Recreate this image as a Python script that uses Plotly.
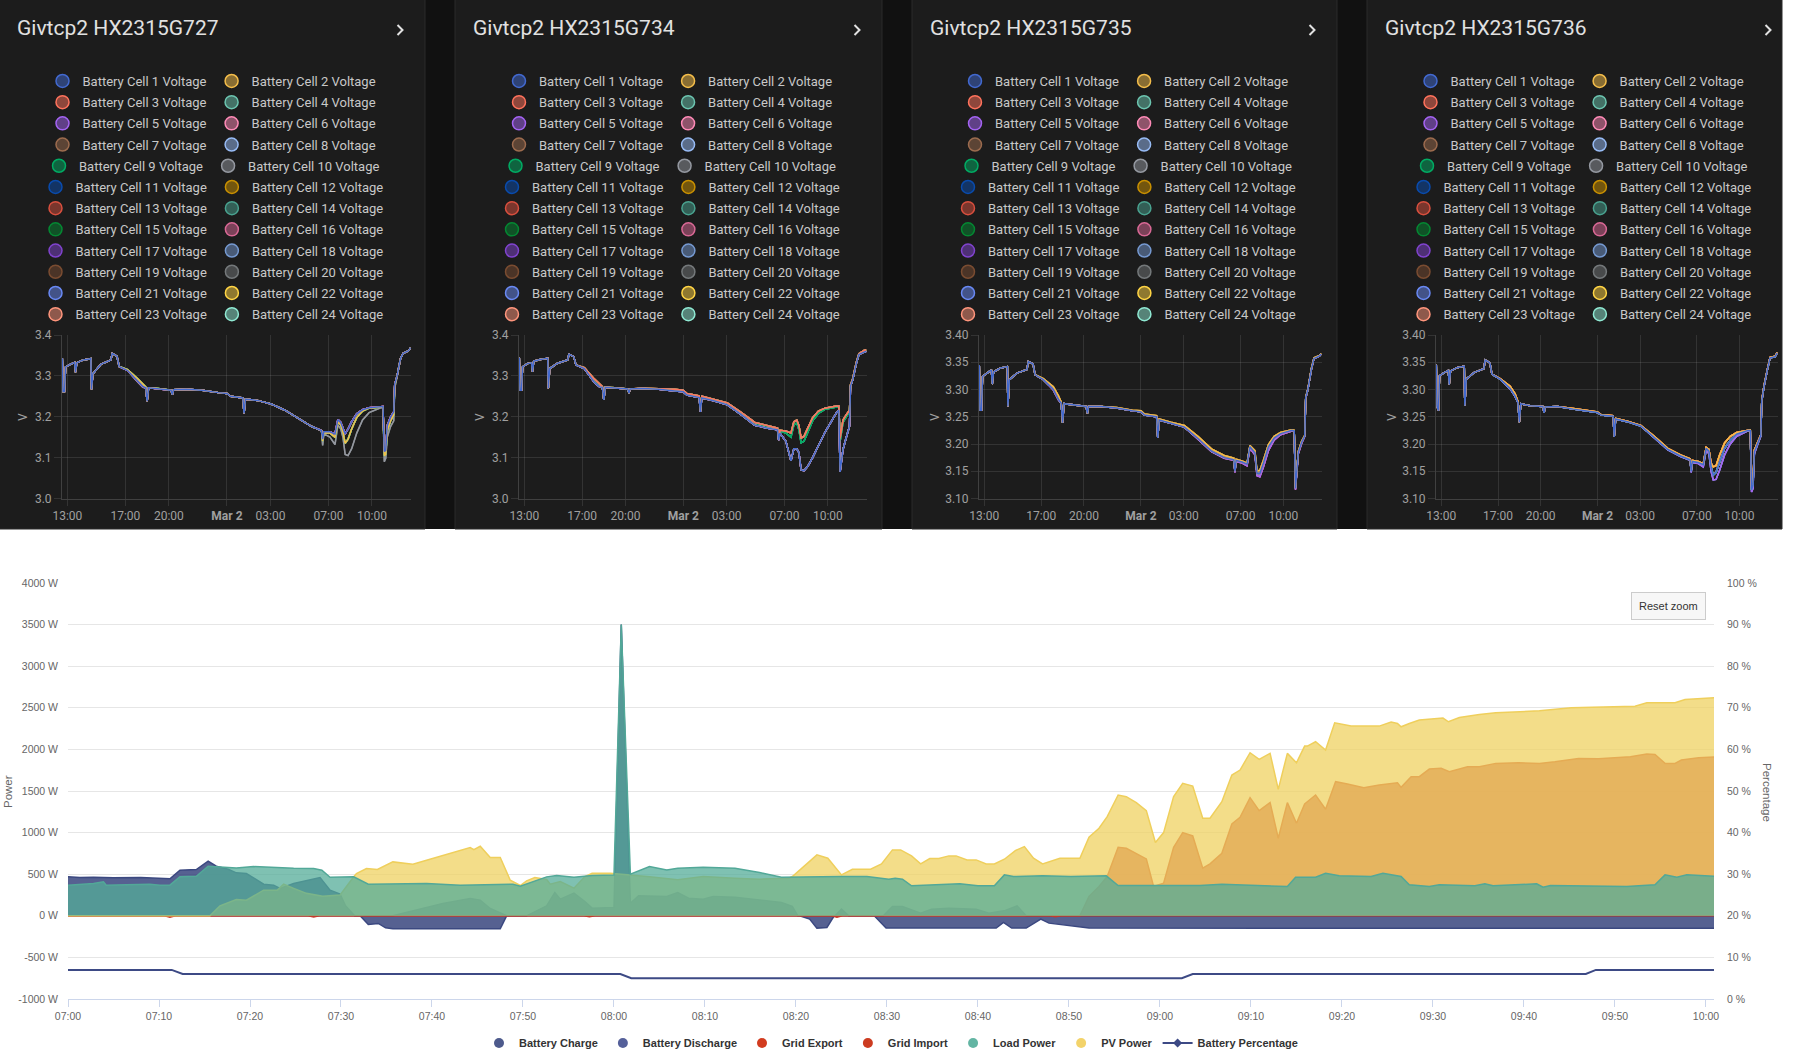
import pandas as pd
import plotly.graph_objects as go

W, H = 1800, 1064

# ---------------- battery cell voltages (hours since 2024-03-01 00:00) ----------------
v_hours = [12.65, 12.70, 12.80, 12.88, 13.20, 13.50, 13.56, 13.65, 14.10, 14.62,
           14.66, 14.76, 15.30, 16.00, 16.09, 16.42, 16.57, 17.15, 17.85, 18.20,
           18.40, 18.50, 18.60, 19.25, 20.15, 20.24, 20.32, 21.20, 22.30, 23.40,
           24.00, 24.25, 25.10, 25.18, 25.28, 26.10, 27.05, 28.00, 28.95, 29.85,
           30.52, 30.60, 30.68, 31.10, 31.45, 31.65, 31.85, 32.00, 32.15, 32.35,
           32.60, 32.95, 33.35, 33.80, 34.60, 34.76, 34.85, 34.95, 35.05, 35.28,
           35.50, 35.57, 35.72, 35.97, 36.15, 36.50, 36.66]

# HX2315G727
p1_base = [3.343, 3.262, 3.262, 3.322, 3.328, 3.333, 3.309, 3.332, 3.339, 3.342,
           3.267, 3.305, 3.328, 3.339, 3.355, 3.348, 3.323, 3.313, 3.287, 3.274,
           3.271, 3.238, 3.271, 3.269, 3.265, 3.254, 3.266, 3.267, 3.265, 3.259,
           3.257, 3.250, 3.246, 3.208, 3.243, 3.240, 3.231, 3.216, 3.196, 3.176,
           3.166, 3.145, 3.163, 3.163, 3.158, 3.193, 3.186, 3.172, 3.158, 3.170,
           3.188, 3.207, 3.217, 3.222, 3.225, 3.225, 3.115, 3.118, 3.178, 3.199,
           3.212, 3.280, 3.298, 3.343, 3.355, 3.361, 3.368]
p1_mid = [3.343, 3.262, 3.262, 3.322, 3.328, 3.333, 3.309, 3.332, 3.339, 3.342,
          3.267, 3.305, 3.328, 3.339, 3.355, 3.348, 3.323, 3.315, 3.293, 3.279,
          3.273, 3.238, 3.271, 3.269, 3.265, 3.254, 3.266, 3.267, 3.265, 3.259,
          3.257, 3.250, 3.246, 3.208, 3.243, 3.240, 3.231, 3.216, 3.196, 3.176,
          3.166, 3.140, 3.161, 3.160, 3.150, 3.188, 3.180, 3.162, 3.135, 3.145,
          3.170, 3.198, 3.214, 3.221, 3.224, 3.224, 3.105, 3.108, 3.165, 3.190,
          3.205, 3.277, 3.298, 3.343, 3.355, 3.361, 3.368]
p1_low = [3.343, 3.262, 3.262, 3.322, 3.328, 3.333, 3.309, 3.332, 3.339, 3.342,
          3.267, 3.305, 3.328, 3.339, 3.355, 3.348, 3.323, 3.313, 3.285, 3.272,
          3.270, 3.238, 3.271, 3.269, 3.265, 3.254, 3.266, 3.267, 3.265, 3.259,
          3.257, 3.250, 3.246, 3.208, 3.243, 3.240, 3.231, 3.216, 3.196, 3.176,
          3.166, 3.130, 3.158, 3.150, 3.132, 3.180, 3.170, 3.150, 3.108, 3.105,
          3.122, 3.160, 3.192, 3.210, 3.222, 3.222, 3.090, 3.098, 3.150, 3.176,
          3.190, 3.270, 3.296, 3.343, 3.355, 3.361, 3.368]

# HX2315G734
p2_base = [3.345, 3.265, 3.265, 3.322, 3.330, 3.332, 3.310, 3.336, 3.340, 3.343,
           3.270, 3.318, 3.331, 3.339, 3.353, 3.347, 3.327, 3.318, 3.284, 3.273,
           3.272, 3.241, 3.272, 3.271, 3.268, 3.258, 3.268, 3.269, 3.267, 3.263,
           3.261, 3.253, 3.247, 3.212, 3.246, 3.239, 3.229, 3.205, 3.179, 3.172,
           3.168, 3.143, 3.160, 3.140, 3.092, 3.122, 3.122, 3.112, 3.070, 3.068,
           3.078, 3.100, 3.130, 3.162, 3.210, 3.216, 3.065, 3.100, 3.120, 3.150,
           3.177, 3.275, 3.290, 3.330, 3.352, 3.358, 3.360]
p2_high = [3.345, 3.265, 3.265, 3.322, 3.330, 3.332, 3.310, 3.336, 3.340, 3.343,
           3.270, 3.318, 3.331, 3.339, 3.353, 3.347, 3.327, 3.320, 3.292, 3.280,
           3.274, 3.241, 3.272, 3.271, 3.268, 3.258, 3.268, 3.270, 3.269, 3.267,
           3.265, 3.257, 3.251, 3.215, 3.250, 3.243, 3.234, 3.211, 3.186, 3.178,
           3.172, 3.148, 3.167, 3.165, 3.160, 3.188, 3.192, 3.178, 3.148, 3.152,
           3.172, 3.198, 3.214, 3.221, 3.226, 3.226, 3.147, 3.175, 3.192, 3.205,
           3.216, 3.278, 3.293, 3.333, 3.354, 3.362, 3.364]
p2_mid = [3.345, 3.265, 3.265, 3.322, 3.330, 3.332, 3.310, 3.336, 3.340, 3.343,
          3.270, 3.318, 3.331, 3.339, 3.353, 3.347, 3.327, 3.319, 3.288, 3.277,
          3.273, 3.241, 3.272, 3.271, 3.268, 3.258, 3.268, 3.269, 3.268, 3.265,
          3.263, 3.255, 3.249, 3.213, 3.248, 3.241, 3.232, 3.208, 3.183, 3.175,
          3.170, 3.146, 3.165, 3.160, 3.150, 3.180, 3.185, 3.168, 3.136, 3.140,
          3.162, 3.190, 3.208, 3.218, 3.224, 3.224, 3.140, 3.168, 3.186, 3.200,
          3.212, 3.276, 3.291, 3.331, 3.353, 3.360, 3.362]

# HX2315G735
p3_base = [3.345, 3.262, 3.262, 3.324, 3.330, 3.336, 3.310, 3.332, 3.339, 3.342,
           3.269, 3.318, 3.330, 3.337, 3.351, 3.347, 3.327, 3.318, 3.300, 3.282,
           3.275, 3.239, 3.274, 3.272, 3.269, 3.256, 3.269, 3.269, 3.266, 3.261,
           3.259, 3.253, 3.250, 3.211, 3.244, 3.238, 3.231, 3.210, 3.187, 3.175,
           3.171, 3.150, 3.170, 3.167, 3.163, 3.195, 3.189, 3.184, 3.146, 3.146,
           3.165, 3.195, 3.211, 3.219, 3.225, 3.224, 3.119, 3.150, 3.185, 3.203,
           3.215, 3.285, 3.300, 3.338, 3.357, 3.361, 3.365]
p3_high = [3.345, 3.262, 3.262, 3.324, 3.330, 3.336, 3.310, 3.332, 3.339, 3.342,
           3.269, 3.318, 3.330, 3.337, 3.351, 3.347, 3.327, 3.320, 3.305, 3.289,
           3.277, 3.239, 3.274, 3.272, 3.269, 3.256, 3.269, 3.269, 3.267, 3.262,
           3.261, 3.255, 3.252, 3.212, 3.246, 3.240, 3.234, 3.214, 3.191, 3.179,
           3.174, 3.152, 3.172, 3.169, 3.165, 3.197, 3.192, 3.188, 3.150, 3.152,
           3.170, 3.199, 3.214, 3.221, 3.226, 3.225, 3.122, 3.153, 3.187, 3.205,
           3.216, 3.286, 3.301, 3.339, 3.358, 3.362, 3.366]
p3_low = [3.345, 3.262, 3.262, 3.324, 3.330, 3.336, 3.310, 3.332, 3.339, 3.342,
          3.269, 3.318, 3.330, 3.337, 3.351, 3.347, 3.327, 3.318, 3.299, 3.281,
          3.275, 3.239, 3.274, 3.272, 3.269, 3.256, 3.269, 3.269, 3.266, 3.261,
          3.259, 3.253, 3.250, 3.211, 3.244, 3.238, 3.231, 3.209, 3.186, 3.174,
          3.170, 3.148, 3.168, 3.165, 3.160, 3.192, 3.186, 3.180, 3.142, 3.140,
          3.158, 3.188, 3.207, 3.217, 3.224, 3.223, 3.116, 3.145, 3.182, 3.201,
          3.214, 3.284, 3.300, 3.338, 3.357, 3.361, 3.365]

# HX2315G736
p4_base = [3.346, 3.270, 3.261, 3.325, 3.331, 3.335, 3.309, 3.334, 3.340, 3.343,
           3.270, 3.319, 3.331, 3.338, 3.354, 3.349, 3.328, 3.319, 3.302, 3.288,
           3.276, 3.240, 3.274, 3.270, 3.269, 3.257, 3.268, 3.269, 3.264, 3.260,
           3.258, 3.253, 3.251, 3.213, 3.246, 3.241, 3.233, 3.212, 3.190, 3.178,
           3.171, 3.150, 3.168, 3.166, 3.162, 3.192, 3.187, 3.158, 3.143, 3.148,
           3.168, 3.192, 3.207, 3.218, 3.225, 3.225, 3.116, 3.125, 3.186, 3.201,
           3.216, 3.279, 3.305, 3.337, 3.358, 3.360, 3.367]
p4_high = [3.346, 3.270, 3.261, 3.325, 3.331, 3.335, 3.309, 3.334, 3.340, 3.343,
           3.270, 3.319, 3.331, 3.338, 3.354, 3.349, 3.328, 3.320, 3.306, 3.292,
           3.278, 3.240, 3.274, 3.270, 3.269, 3.257, 3.268, 3.269, 3.265, 3.261,
           3.259, 3.254, 3.252, 3.214, 3.247, 3.242, 3.234, 3.214, 3.192, 3.180,
           3.173, 3.152, 3.170, 3.168, 3.164, 3.194, 3.190, 3.165, 3.158, 3.160,
           3.180, 3.202, 3.214, 3.221, 3.226, 3.226, 3.122, 3.135, 3.189, 3.203,
           3.217, 3.280, 3.306, 3.338, 3.359, 3.361, 3.368]
p4_low = [3.346, 3.270, 3.261, 3.325, 3.331, 3.335, 3.309, 3.334, 3.340, 3.343,
          3.270, 3.319, 3.331, 3.338, 3.354, 3.349, 3.328, 3.319, 3.301, 3.287,
          3.276, 3.240, 3.274, 3.270, 3.269, 3.257, 3.268, 3.269, 3.264, 3.260,
          3.258, 3.253, 3.251, 3.213, 3.246, 3.241, 3.233, 3.211, 3.189, 3.177,
          3.170, 3.148, 3.166, 3.164, 3.158, 3.188, 3.182, 3.150, 3.134, 3.135,
          3.152, 3.180, 3.200, 3.214, 3.224, 3.224, 3.112, 3.118, 3.182, 3.199,
          3.214, 3.278, 3.304, 3.337, 3.358, 3.360, 3.367]

# which of the curves above each of the 24 cells follows
p1_groups = ["b", "m", "b", "m", "b", "b", "b", "b", "m", "l", "b", "m",
             "b", "m", "m", "b", "b", "b", "b", "l", "b", "m", "b", "m"]
p2_groups = ["b", "b", "h", "h", "b", "b", "h", "b", "m", "b", "b", "h",
             "h", "m", "m", "b", "b", "b", "b", "b", "b", "h", "h", "m"]
p3_groups = ["b", "h", "b", "b", "l", "l", "h", "b", "b", "b", "b", "h",
             "b", "b", "b", "b", "l", "b", "b", "b", "b", "h", "b", "b"]
p4_groups = ["b", "h", "h", "b", "l", "b", "b", "l", "b", "b", "b", "h",
             "h", "b", "b", "b", "l", "b", "b", "b", "b", "h", "h", "b"]

panel_titles = ["Givtcp2 HX2315G727", "Givtcp2 HX2315G734",
                "Givtcp2 HX2315G735", "Givtcp2 HX2315G736"]
cell_names = [f"Battery Cell {i} Voltage" for i in range(1, 25)]
cell_colors = ["#4269d0", "#f4bd4a", "#ff725c", "#6cc5b0", "#a463f2", "#ff8ab7",
               "#9c6b4e", "#97bbf5", "#01ab63", "#9498a0", "#094bad", "#c99000",
               "#d84f3e", "#49a28f", "#048732", "#d96895", "#8043ce", "#7599d1",
               "#7a4c31", "#74787a", "#6989f4", "#ffd444", "#ff957c", "#8fe9d3"]
v_tick_hours = [13, 17, 20, 24, 27, 31, 34]
v_tick_text = ["13:00", "17:00", "20:00", "<b>Mar 2</b>", "03:00", "07:00", "10:00"]

# ---------------- power chart (minutes after 2024-03-02 07:00) ----------------
load_t = [0.0, 1.3, 2.8, 3.9, 4.2, 6.4, 9.0, 10.1, 11.2, 12.3, 14.1, 15.4, 16.7, 18.5,
          20.4, 22.6, 24.8, 27.0, 27.9, 28.8, 31.4, 33.0, 35.8, 39.4, 43.1, 46.7, 48.9,
          49.7, 52.6, 53.7, 54.9, 55.6, 57.6, 59.6, 60.0, 60.8, 61.8, 63.9, 64.9, 65.8,
          67.0, 69.8, 73.3, 76.0, 78.4, 81.5, 85.0, 87.8, 90.2, 90.9, 91.7, 92.7, 94.9,
          98.0, 100.0, 101.8, 102.9, 103.9, 107.1, 110.2, 114.1, 115.4, 119.5, 124.4,
          126.8, 134.0, 134.9, 137.1, 138.2, 139.7, 143.2, 144.5, 146.5, 147.4, 149.6,
          150.7, 154.6, 155.7, 156.6, 161.4, 162.1, 162.9, 171.3, 174.4, 175.5, 176.8,
          177.9, 181.5]
load_w = [368, 380, 388, 408, 368, 372, 380, 368, 368, 468, 476, 596, 588, 576,
          592, 580, 572, 568, 548, 464, 468, 380, 380, 388, 368, 380, 380,
          356, 468, 484, 472, 464, 484, 492, 490, 3500, 500, 592, 572, 552,
          572, 584, 572, 520, 464, 470, 472, 472, 440, 452, 440, 360, 372,
          384, 360, 360, 492, 472, 480, 472, 480, 364, 365, 365,
          380, 352, 464, 464, 512, 480, 472, 512, 472, 372, 352,
          372, 360, 384, 360, 384, 344, 364, 352, 372, 492, 464,
          492, 472]

pv_t = [0.0, 15.6, 16.7, 18.5, 19.6, 21.5, 23.0, 23.7, 24.8, 26.2,
        28.0, 29.9, 31.4, 31.7, 32.8, 34.0, 35.7, 37.9, 39.4, 41.2,
        44.2, 44.6, 45.3, 46.4, 47.5, 48.6, 49.7, 50.4, 51.3, 52.6,
        53.0, 54.1, 55.6, 56.8, 57.6, 59.6, 61.9, 63.9, 67.0, 69.8,
        73.3, 76.0, 79.2, 79.6, 82.3, 83.5, 85.0, 86.2, 88.2, 89.4,
        90.6, 91.5, 92.7, 93.7, 94.7, 95.7, 96.8, 97.6, 98.8, 99.8,
        100.9, 101.8, 102.9, 104.1, 105.1, 106.1, 107.1, 109.0, 111.2, 112.2,
        113.3, 114.2, 115.4, 116.3, 117.4, 118.5, 119.5, 120.4, 121.5, 122.5,
        123.6, 124.7, 125.5, 126.8, 127.9, 128.8, 129.9, 130.9, 132.1, 133.0,
        134.0, 135.0, 135.9, 136.2, 137.1, 138.2, 139.2, 141.0, 144.1, 145.4,
        146.1, 146.5, 147.4, 148.5, 151.1, 151.7, 152.9, 155.1, 156.9, 161.7,
        165.2, 170.0, 172.2, 173.5, 176.6, 177.7, 179.7, 181.5]
pv_w = [0, 0, 120, 196, 188, 308, 308, 380, 330, 270,
        236, 250, 470, 508, 568, 556, 648, 620, 668, 728,
        820, 796, 836, 700, 700, 428, 364, 420, 460, 436,
        380, 412, 332, 472, 512, 512, 490, 470, 432, 472,
        452, 440, 452, 472, 732, 692, 492, 560, 560, 624,
        792, 792, 720, 624, 688, 688, 720, 720, 672, 672,
        624, 624, 680, 784, 832, 692, 624, 692, 692, 944,
        1052, 1192, 1452, 1432, 1360, 1264, 880, 1000, 1432, 1592,
        1560, 1172, 1172, 1372, 1692, 1752, 1960, 1880, 1952, 1520,
        1952, 1840, 2040, 2040, 2092, 1992, 2320, 2280, 2280, 2328,
        2312, 2272, 2312, 2352, 2376, 2332, 2384, 2420, 2440, 2464,
        2500, 2512, 2520, 2560, 2560, 2600, 2612, 2624]

export_t = [0.0, 111.2, 112.2, 113.3, 114.2, 115.4, 116.3, 117.4, 118.5, 119.3,
            120.4, 121.5, 122.5, 123.6, 124.7, 125.5, 126.8, 127.9, 128.8, 129.9,
            130.9, 132.1, 133.0, 134.0, 135.0, 135.9, 137.1, 138.2, 139.3, 140.6,
            142.4, 144.1, 146.1, 146.5, 147.6, 148.5, 149.6, 150.9, 151.8, 153.8,
            155.1, 156.9, 159.4, 161.7, 163.4, 166.0, 168.2, 171.7, 173.5, 174.4,
            175.5, 176.6, 177.3, 179.2, 181.5]
export_w = [0, 0, 232, 352, 472, 824, 812, 752, 684, 352,
            392, 824, 1000, 960, 572, 624, 752, 1104, 1184, 1420,
            1264, 1360, 932, 1360, 1112, 1344, 1452, 1280, 1612, 1584,
            1540, 1572, 1600, 1544, 1672, 1672, 1764, 1772, 1732, 1792,
            1792, 1832, 1840, 1832, 1852, 1892, 1888, 1912, 1944, 1940,
            1832, 1832, 1872, 1900, 1912]

import_t = [0.0, 10.6, 11.2, 11.8, 26.4, 27.0, 27.6, 56.7, 57.3, 57.9,
            83.9, 84.5, 85.1, 107.9, 108.5, 109.1, 181.5]
import_w = [0, 0, -18, 0, 0, -14, 0, 0, -12, 0, 0, -16, 0, 0, -12, 0, 0]

discharge_t = [0.0, 1.3, 2.8, 5.0, 8.0, 10.1, 11.2, 12.3, 14.1, 15.4,
               16.3, 17.6, 18.5, 19.6, 21.5, 22.6, 23.3, 24.8, 27.7, 28.8,
               29.9, 30.5, 31.5, 35.7, 41.2, 44.2, 45.3, 46.4, 48.2, 50.4,
               52.6, 53.5, 54.1, 55.6, 56.8, 57.6, 59.6, 60.0, 60.8, 61.8,
               62.7, 65.8, 67.0, 68.2, 69.8, 70.9, 73.3, 76.0, 78.4, 79.6,
               80.2, 84.3, 85.0, 85.8, 89.6, 90.6, 91.7, 93.7, 94.9, 96.8,
               99.8, 101.2, 103.0, 104.3, 105.3, 181.5]
discharge_w = [468, 460, 464, 456, 460, 448, 444, 548, 556, 656,
               596, 560, 516, 508, 380, 368, 328, 388, 460, 308,
               260, 120, 0, 0, 148, 208, 188, 88, 0, 0,
               120, 280, 200, 272, 172, 92, 92, 100, 3500, 150,
               240, 232, 280, 212, 200, 232, 224, 192, 160, 112,
               0, 0, 80, 0, 0, 112, 112, 32, 80, 92,
               80, 32, 64, 120, 0, 0]

charge_t = [0.0, 32.1, 33.0, 34.1, 34.9, 35.7, 47.5, 48.2, 80.4, 81.5, 82.3, 83.4,
            84.2, 88.6, 89.9, 102.0, 102.8, 103.7, 105.3, 106.9, 107.8, 110.6, 112.2, 181.5]
charge_w = [0, 0, -104, -92, -144, -156, -156, 0, 0, -40, -148, -140,
            0, 0, -148, -148, -80, -148, -148, -40, -88, -128, -148, -150]

soc_t = [0.0, 11.4, 12.6, 60.7, 61.9, 122.4, 123.6, 166.8, 167.9, 181.5]
soc_pct = [7, 7, 6, 6, 5, 5, 6, 6, 7, 7]

power_ticks = [-1000, -500, 0, 500, 1000, 1500, 2000, 2500, 3000, 3500, 4000]
pct_ticks = [0, 10, 20, 30, 40, 50, 60, 70, 80, 90, 100]


# positions below are given in screen pixels of the 1800x1064 page
def px(x):
    return x / W


def py(y):
    return 1 - y / H


def rgba(hex_color, a):
    h = hex_color.lstrip("#")
    return f"rgba({int(h[0:2], 16)},{int(h[2:4], 16)},{int(h[4:6], 16)},{a})"


day0 = pd.Timestamp("2024-03-01")
v_time = day0 + pd.to_timedelta(v_hours, unit="h")
v_ticks = day0 + pd.to_timedelta(v_tick_hours, unit="h")

t0 = pd.Timestamp("2024-03-02 07:00")


def at(mins):
    return t0 + pd.to_timedelta(mins, unit="m")


panel_curves = [
    {"b": p1_base, "m": p1_mid, "l": p1_low},
    {"b": p2_base, "h": p2_high, "m": p2_mid},
    {"b": p3_base, "h": p3_high, "l": p3_low},
    {"b": p4_base, "h": p4_high, "l": p4_low},
]
panel_groups = [p1_groups, p2_groups, p3_groups, p4_groups]

# pixel layout of the four dark cards
card_px = [(-1, 425), (455, 882), (912, 1337), (1367, 1782)]
plot_px = [(62, 411), (519, 866.7), (979, 1321.7), (1436, 1777.7)]
legend_cx = [212, 668.5, 1124.5, 1580]
chevron_x = [400, 857, 1312, 1768]
y_ranges = [(3.0, 3.4, 0.1, ".1f"), (3.0, 3.4, 0.1, ".1f"),
            (3.1, 3.4, 0.05, ".2f"), (3.1, 3.4, 0.05, ".2f")]

GRID_DARK = "rgba(255,255,255,0.1)"
TICK_DARK = dict(family="Roboto", size=12, color="#a0a0a0")

fig = go.Figure()
layout_extra = {}
shapes = []
annotations = []

shapes.append(dict(type="rect", xref="paper", yref="paper", x0=px(-4), x1=px(1782),
                   y0=py(529), y1=py(-4), fillcolor="#111111", line=dict(width=0),
                   layer="below"))

for k in range(4):
    xa = "x" if k == 0 else f"x{k + 1}"
    ya = "y" if k == 0 else f"y{k + 1}"
    curves = panel_curves[k]
    groups = panel_groups[k]

    # cell 1 drawn last so it sits on top, like the original card
    for i in range(23, -1, -1):
        fig.add_trace(go.Scatter(
            x=v_time, y=curves[groups[i]], mode="lines",
            line=dict(color=cell_colors[i], width=1.5),
            xaxis=xa, yaxis=ya, showlegend=False, hoverinfo="skip"))

    for r in range(12):
        leg = f"legend{2 + k * 12 + r}"
        for i in (2 * r, 2 * r + 1):
            fig.add_trace(go.Scatter(
                x=[None], y=[None], mode="markers", name=cell_names[i],
                marker=dict(size=13, color=rgba(cell_colors[i], 0.5),
                            line=dict(color=cell_colors[i], width=1.5)),
                xaxis=xa, yaxis=ya, legend=leg))
        layout_extra[leg] = dict(
            orientation="h", x=px(legend_cx[k]), xanchor="center",
            y=py(81 + r * 21.2), yanchor="middle", bgcolor="rgba(0,0,0,0)",
            font=dict(family="Roboto", size=13, color="#c8c8c8"),
            itemclick=False, itemdoubleclick=False)

    lo, hi, step, fmt = y_ranges[k]
    xkey = "xaxis" if k == 0 else f"xaxis{k + 1}"
    ykey = "yaxis" if k == 0 else f"yaxis{k + 1}"
    layout_extra[xkey] = dict(
        domain=[px(plot_px[k][0]), px(plot_px[k][1])], anchor=ya, type="date",
        range=[day0 + pd.Timedelta(hours=12.63), day0 + pd.Timedelta(hours=36.69)],
        tickmode="array", tickvals=v_ticks, ticktext=v_tick_text,
        showgrid=True, gridcolor=GRID_DARK, ticks="outside", ticklen=6,
        tickcolor=GRID_DARK, tickfont=TICK_DARK, showline=True,
        linecolor="rgba(255,255,255,0.16)", zeroline=False, automargin=False)
    layout_extra[ykey] = dict(
        domain=[py(498.5), py(335)], anchor=xa, range=[lo, hi], dtick=step,
        tick0=lo, tickformat=fmt, showgrid=True, gridcolor=GRID_DARK,
        ticks="outside", ticklen=7, tickcolor=GRID_DARK, tickfont=TICK_DARK,
        showline=True, linecolor="rgba(255,255,255,0.16)", zeroline=False,
        automargin=False)

    c0, c1 = card_px[k]
    shapes.append(dict(type="rect", xref="paper", yref="paper", x0=px(c0), x1=px(c1),
                       y0=py(529), y1=py(-6), fillcolor="#1c1c1c",
                       line=dict(color="#2a2a2a", width=1), layer="below"))
    cx = chevron_x[k]
    shapes.append(dict(type="path", xref="paper", yref="paper",
                       path=f"M {px(cx - 2.5)},{py(25)} L {px(cx + 2.5)},{py(30)} "
                            f"L {px(cx - 2.5)},{py(35)}",
                       line=dict(color="#e1e1e1", width=2)))
    annotations.append(dict(text=panel_titles[k], xref="paper", yref="paper",
                            x=px(c0 + 16), y=py(28), xanchor="left", yanchor="middle",
                            showarrow=False,
                            font=dict(family="Roboto", size=21, color="#e1e1e1")))
    annotations.append(dict(text="V", xref="paper", yref="paper",
                            x=px(plot_px[k][0] - (39 if k < 2 else 44)), y=py(417),
                            xanchor="center", yanchor="middle", textangle=-90,
                            showarrow=False, font=dict(family="Roboto", size=12, color="#a0a0a0")))

# ---------------- power chart ----------------
NAVY = "#3b4880"
areas = [
    ("Battery Discharge", discharge_t, discharge_w, NAVY, "rgba(44,58,118,0.8)"),
    ("Battery Charge", charge_t, charge_w, NAVY, "rgba(44,58,118,0.8)"),
    ("Grid Export", export_t, export_w, "#c63a2c", "rgba(186,46,40,0.75)"),
    ("Grid Import", import_t, import_w, "#c63a2c", "rgba(186,46,40,0.75)"),
    ("PV Power", pv_t, pv_w, "#efcf5c", "rgba(239,210,98,0.75)"),
    ("Load Power", load_t, load_w, "#52a898", "rgba(84,172,152,0.75)"),
]
for name, tt, ww, lc, fc in areas:
    fig.add_trace(go.Scatter(
        x=at(tt), y=ww, mode="lines", fill="tozeroy", fillcolor=fc,
        line=dict(color=lc, width=1.5), xaxis="x5", yaxis="y5",
        showlegend=False, hoverinfo="skip", name=name))

fig.add_trace(go.Scatter(
    x=at(soc_t), y=soc_pct, mode="lines", line=dict(color="#3d4a85", width=2),
    xaxis="x5", yaxis="y6", showlegend=False, hoverinfo="skip",
    name="Battery Percentage"))

legend_items = [("Battery Charge", "#4d5a8c"), ("Battery Discharge", "#55609a"),
                ("Grid Export", "#d23c1f"), ("Grid Import", "#cc3b20"),
                ("Load Power", "#63b5a3"), ("PV Power", "#f3d36a")]
for name, col in legend_items:
    fig.add_trace(go.Scatter(x=[None], y=[None], mode="markers", name=name,
                             marker=dict(size=10, color=col),
                             xaxis="x5", yaxis="y5", legend="legend"))
fig.add_trace(go.Scatter(x=[None], y=[None], mode="lines+markers",
                         name="Battery Percentage",
                         line=dict(color="#3d4a85", width=2),
                         marker=dict(size=7, symbol="diamond", color="#3d4a85"),
                         xaxis="x5", yaxis="y6", legend="legend"))

HC_FONT = dict(family="Liberation Sans, Arial", size=10.5, color="#666666")
layout_extra["xaxis5"] = dict(
    domain=[px(68), px(1714)], anchor="y5", type="date",
    range=[t0, t0 + pd.Timedelta(seconds=10853)],
    tickmode="array", tickvals=pd.date_range(t0, periods=19, freq="10min"),
    tickformat="%H:%M", showgrid=False, showline=True, linecolor="#ccd6eb",
    ticks="outside", ticklen=7, tickcolor="#ccd6eb", tickfont=HC_FONT, zeroline=False,
    automargin=False)
layout_extra["yaxis5"] = dict(
    domain=[py(999), py(583)], anchor="x5", range=[-1000, 4000],
    tickmode="array", tickvals=power_ticks, ticktext=[f"{v} W" for v in power_ticks],
    showgrid=True, gridcolor="#e6e6e6", zeroline=False, showline=False,
    ticklabelstandoff=9, tickfont=HC_FONT, automargin=False)
layout_extra["yaxis6"] = dict(
    overlaying="y5", anchor="x5", side="right", range=[0, 100],
    tickmode="array", tickvals=pct_ticks, ticktext=[f"{v} %" for v in pct_ticks],
    showgrid=False, zeroline=False, showline=False, ticklabelstandoff=12,
    tickfont=HC_FONT, automargin=False)

annotations += [
    dict(text="Power", xref="paper", yref="paper", x=px(8), y=py(792), textangle=-90,
         showarrow=False, xanchor="center", yanchor="middle",
         font=dict(family="Liberation Sans, Arial", size=11.5, color="#666666")),
    dict(text="Percentage", xref="paper", yref="paper", x=px(1767), y=py(792),
         textangle=90, showarrow=False, xanchor="center", yanchor="middle",
         font=dict(family="Liberation Sans, Arial", size=11.5, color="#666666")),
    dict(text="Reset zoom", xref="paper", yref="paper", x=px(1668), y=py(606),
         showarrow=False, xanchor="center", yanchor="middle",
         bgcolor="#f7f7f7", bordercolor="#cccccc", borderwidth=1, borderpad=7,
         font=dict(family="Liberation Sans, Arial", size=11, color="#333333")),
]

fig.update_layout(
    width=W, height=H, autosize=False, margin=dict(l=0, r=0, t=0, b=0, pad=0),
    paper_bgcolor="white", plot_bgcolor="rgba(0,0,0,0)",
    shapes=shapes, annotations=annotations,
    legend=dict(orientation="h", x=px(891), xanchor="center", y=py(1043),
                yanchor="middle", bgcolor="rgba(0,0,0,0)",
                font=dict(family="Liberation Sans, Arial", size=11,
                          color="#333333", weight="bold")),
    **layout_extra,
)

# drop the page's default body margin so the figure fills the window exactly
fig.write_html("out.html", config={"displayModeBar": False},
               post_script="document.body.style.margin='0';"
                           "document.body.style.overflow='hidden';")
